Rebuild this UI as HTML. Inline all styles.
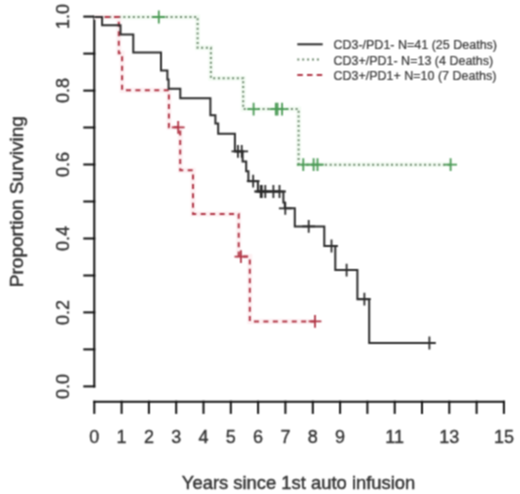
<!DOCTYPE html>
<html><head><meta charset="utf-8"><style>
html,body{margin:0;padding:0;background:#fff;}
body{width:520px;height:494px;overflow:hidden;}
svg{display:block;}
text{font-family:"Liberation Sans", sans-serif;}
</style></head><body>
<svg width="520" height="494" viewBox="0 0 520 494">
<defs><filter id="bl" color-interpolation-filters="sRGB" x="0" y="0" width="520" height="494" filterUnits="userSpaceOnUse"><feConvolveMatrix order="3" kernelMatrix="1 2 1 2 4 2 1 2 1" divisor="16" edgeMode="duplicate" preserveAlpha="true"/></filter></defs>
<g filter="url(#bl)">
<rect width="520" height="494" fill="#fff"/>
<g stroke="#111" stroke-width="2" fill="none" stroke-linecap="square">
<path d="M94.3 16.6V386.4"/><path d="M84.3 386.4H94.3"/><path d="M84.3 349.4H94.3"/><path d="M84.3 312.4H94.3"/><path d="M84.3 275.5H94.3"/><path d="M84.3 238.5H94.3"/><path d="M84.3 201.5H94.3"/><path d="M84.3 164.5H94.3"/><path d="M84.3 127.5H94.3"/><path d="M84.3 90.6H94.3"/><path d="M84.3 53.6H94.3"/><path d="M84.3 16.6H94.3"/>
<path d="M94.3 401.7H503.9"/><path d="M94.3 401.7V412.9"/><path d="M121.6 401.7V412.9"/><path d="M148.9 401.7V412.9"/><path d="M176.2 401.7V412.9"/><path d="M203.5 401.7V412.9"/><path d="M230.8 401.7V412.9"/><path d="M258.1 401.7V412.9"/><path d="M285.4 401.7V412.9"/><path d="M312.8 401.7V412.9"/><path d="M340.1 401.7V412.9"/><path d="M367.4 401.7V412.9"/><path d="M394.7 401.7V412.9"/><path d="M422.0 401.7V412.9"/><path d="M449.3 401.7V412.9"/><path d="M476.6 401.7V412.9"/><path d="M503.9 401.7V412.9"/>
</g>
<g font-size="18" fill="#333" stroke="#333" stroke-width="0.35"><text transform="translate(69 386.4) rotate(-90)" text-anchor="middle">0.0</text><text transform="translate(69 312.4) rotate(-90)" text-anchor="middle">0.2</text><text transform="translate(69 238.5) rotate(-90)" text-anchor="middle">0.4</text><text transform="translate(69 164.5) rotate(-90)" text-anchor="middle">0.6</text><text transform="translate(69 90.6) rotate(-90)" text-anchor="middle">0.8</text><text transform="translate(69 16.6) rotate(-90)" text-anchor="middle">1.0</text><text x="94.3" y="442.8" text-anchor="middle">0</text><text x="121.6" y="442.8" text-anchor="middle">1</text><text x="148.9" y="442.8" text-anchor="middle">2</text><text x="176.2" y="442.8" text-anchor="middle">3</text><text x="203.5" y="442.8" text-anchor="middle">4</text><text x="230.8" y="442.8" text-anchor="middle">5</text><text x="258.1" y="442.8" text-anchor="middle">6</text><text x="285.4" y="442.8" text-anchor="middle">7</text><text x="312.8" y="442.8" text-anchor="middle">8</text><text x="340.1" y="442.8" text-anchor="middle">9</text><text x="394.7" y="442.8" text-anchor="middle">11</text><text x="449.3" y="442.8" text-anchor="middle">13</text><text x="503.9" y="442.8" text-anchor="middle">15</text></g>
<text transform="translate(23.1 201.6) rotate(-90)" text-anchor="middle" font-size="19" fill="#333" stroke="#333" stroke-width="0.45">Proportion Surviving</text>
<text x="298.6" y="488.9" text-anchor="middle" font-size="18.4" fill="#333" stroke="#333" stroke-width="0.45">Years since 1st auto infusion</text>
<polyline points="94.3,17.0 197.6,17.0 197.6,47.8 210.9,47.8 210.9,78.2 243.2,78.2 243.2,109.1 298.6,109.1 298.6,164.7 450.6,164.7" fill="none" stroke="#f2fbf2" stroke-width="5"/>
<polyline points="94.3,17.0 118.8,17.0 118.8,53.3 122.1,53.3 122.1,90.3 168.9,90.3 168.9,127.3 180.2,127.3 180.2,170.3 193.0,170.3 193.0,214.0 238.7,214.0 238.7,256.6 249.8,256.6 249.8,321.4 315.0,321.4" fill="none" stroke="#fdf0f2" stroke-width="5"/>
<polyline points="94.3,17.0 197.6,17.0 197.6,47.8 210.9,47.8 210.9,78.2 243.2,78.2 243.2,109.1 298.6,109.1 298.6,164.7 450.6,164.7" fill="none" stroke="#6f8a6f" stroke-width="2" stroke-dasharray="2 2.72" stroke-dashoffset="-0.75"/>
<polyline points="94.3,17.0 118.8,17.0 118.8,53.3 122.1,53.3 122.1,90.3 168.9,90.3 168.9,127.3 180.2,127.3 180.2,170.3 193.0,170.3 193.0,214.0 238.7,214.0 238.7,256.6 249.8,256.6 249.8,321.4 315.0,321.4" fill="none" stroke="#b03444" stroke-width="2" stroke-dasharray="5 4.45" stroke-dashoffset="-1.0"/>
<polyline points="94.3,17.0 102.1,17.0 102.1,25.3 120.5,25.3 120.5,34.4 133.3,34.4 133.3,52.5 161.0,52.5 161.0,70.5 167.4,70.5 167.4,79.6 168.6,79.6 168.6,88.7 180.3,88.7 180.3,98.3 210.4,98.3 210.4,115.3 215.4,115.3 215.4,123.5 218.2,123.5 218.2,133.7 234.9,133.7 234.9,151.4 242.6,151.4 242.6,161.5 246.2,161.5 246.2,171.2 248.4,171.2 248.4,181.2 257.9,181.2 257.9,191.5 283.4,191.5 283.4,202.5 284.8,202.5 284.8,208.3 294.8,208.3 294.8,226.4 324.3,226.4 324.3,246.0 335.3,246.0 335.3,270.1 357.4,270.1 357.4,299.2 369.2,299.2 369.2,343.0 429.4,343.0" fill="none" stroke="#2a2a2a" stroke-width="2"/>
<g stroke="#4a9a55" stroke-width="1.8" fill="none"><path d="M152.4 17.0H165.2M158.8 10.6V23.4"/><path d="M247.2 109.1H260.0M253.6 102.7V115.5"/><path d="M269.4 109.1H282.2M275.8 102.7V115.5"/><path d="M271.1 109.1H283.9M277.5 102.7V115.5"/><path d="M275.7 109.1H288.5M282.1 102.7V115.5"/><path d="M296.9 164.7H309.7M303.3 158.3V171.1"/><path d="M307.2 164.7H320.0M313.6 158.3V171.1"/><path d="M311.1 164.7H323.9M317.5 158.3V171.1"/><path d="M444.2 164.7H457.0M450.6 158.3V171.1"/></g>
<g stroke="#b03444" stroke-width="1.8" fill="none"><path d="M171.8 127.3H184.6M178.2 120.9V133.7"/><path d="M234.5 256.6H247.3M240.9 250.2V263.0"/><path d="M308.6 321.4H321.4M315.0 315.0V327.8"/></g>
<g stroke="#2a2a2a" stroke-width="1.8" fill="none"><path d="M231.5 151.4H244.3M237.9 145.0V157.8"/><path d="M235.3 151.4H248.1M241.7 145.0V157.8"/><path d="M246.8 181.2H259.6M253.2 174.8V187.6"/><path d="M254.3 191.5H267.1M260.7 185.1V197.9"/><path d="M255.4 191.5H268.2M261.8 185.1V197.9"/><path d="M258.9 191.5H271.7M265.3 185.1V197.9"/><path d="M267.0 191.5H279.8M273.4 185.1V197.9"/><path d="M273.1 191.5H285.9M279.5 185.1V197.9"/><path d="M278.9 208.3H291.7M285.3 201.9V214.7"/><path d="M302.3 226.4H315.1M308.7 220.0V232.8"/><path d="M325.1 246.0H337.9M331.5 239.6V252.4"/><path d="M340.2 270.1H353.0M346.6 263.7V276.5"/><path d="M358.0 299.2H370.8M364.4 292.8V305.6"/><path d="M423.0 343.0H435.8M429.4 336.6V349.4"/></g>
<g stroke-width="2">
<path d="M297.3 44.3H322.7" stroke="#2a2a2a"/>
<path d="M297.3 59.5H321" stroke="#6f8a6f" stroke-dasharray="2 2.9"/>
<path d="M297.3 75H322.7" stroke="#b03444" stroke-dasharray="5.5 4.2"/>
</g>
<g font-size="12.5" fill="#333" stroke="#333" stroke-width="0.2">
<text x="333.4" y="49.2">CD3-/PD1- N=41 (25 Deaths)</text>
<text x="333.4" y="64.8">CD3+/PD1- N=13 (4 Deaths)</text>
<text x="333.4" y="80.4">CD3+/PD1+ N=10 (7 Deaths)</text>
</g>
</g>
</svg>
</body></html>
